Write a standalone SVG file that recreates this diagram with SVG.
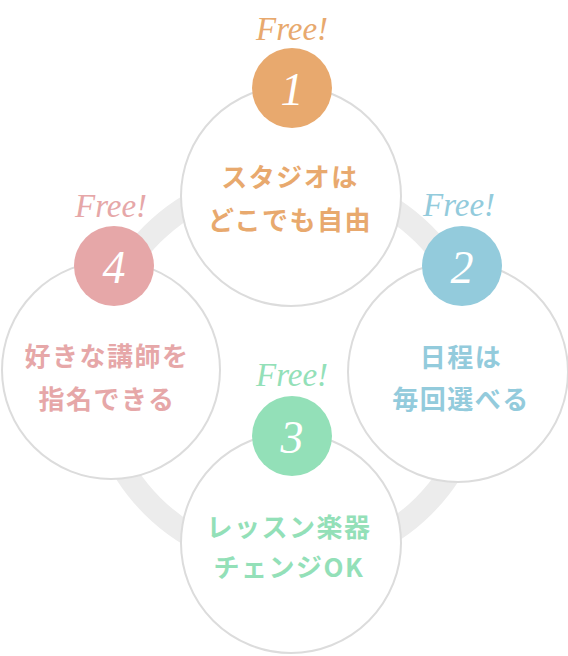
<svg xmlns="http://www.w3.org/2000/svg" width="568" height="656" viewBox="0 0 568 656">
<style>
.card{fill:#fff;stroke:#dcdcdc;stroke-width:2}
.free{font-family:"Liberation Serif","DejaVu Serif",serif;font-style:italic;font-size:33px;text-anchor:middle}
.num{font-family:"Liberation Serif","DejaVu Serif",serif;font-style:italic;font-size:46px;fill:#fff;text-anchor:middle}
.lbl{font-family:"Noto Sans CJK JP","Noto Sans",sans-serif;font-weight:bold;font-size:26px;letter-spacing:1.5px;text-anchor:middle}
.o{fill:#e8a96e}.b{fill:#93cbdc}.g{fill:#93e0b8}.p{fill:#e6a7a8}
</style>
<g id="connectors">
<circle cx="288" cy="370" r="192" fill="none" stroke="#ececec" stroke-width="23"/>
</g>
<g id="node1">
<circle class="card" cx="291" cy="196" r="110"/>
<circle class="o" cx="292" cy="88" r="40"/>
<text class="free o" x="292" y="40">Free!</text>
<text class="num" x="292" y="105">1</text>
<text class="lbl o" x="290" y="187">スタジオは</text>
<text class="lbl o" x="290" y="230">どこでも自由</text>
</g>
<g id="node2">
<circle class="card" cx="458" cy="372" r="110"/>
<circle class="b" cx="462" cy="266" r="40"/>
<text class="free b" x="459" y="216">Free!</text>
<text class="num" x="462" y="283">2</text>
<text class="lbl b" x="461" y="367">日程は</text>
<text class="lbl b" x="461" y="409">毎回選べる</text>
</g>
<g id="node3">
<circle class="card" cx="291" cy="543" r="110"/>
<circle class="g" cx="292" cy="436" r="40"/>
<text class="free g" x="292" y="386">Free!</text>
<text class="num" x="292" y="453">3</text>
<text class="lbl g" x="289" y="537">レッスン楽器</text>
<text class="lbl g" x="289" y="577">チェンジOK</text>
</g>
<g id="node4">
<circle class="card" cx="111" cy="370" r="109"/>
<circle class="p" cx="114" cy="266" r="40"/>
<text class="free p" x="111" y="217">Free!</text>
<text class="num" x="114" y="283">4</text>
<text class="lbl p" x="107" y="366">好きな講師を</text>
<text class="lbl p" x="107" y="409">指名できる</text>
</g>
</svg>
